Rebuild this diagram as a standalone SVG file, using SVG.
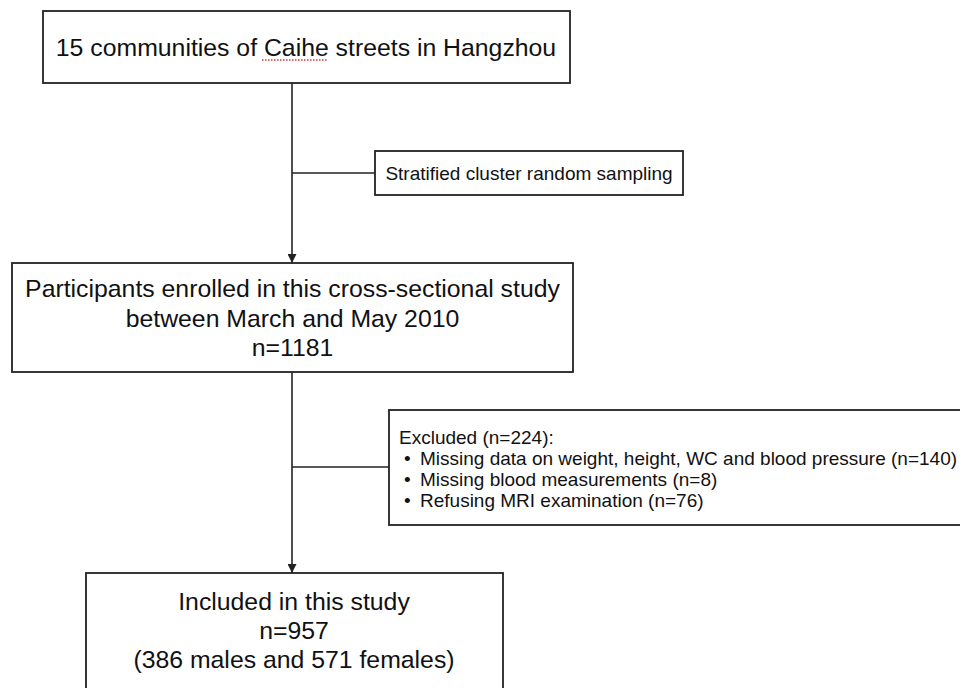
<svg xmlns="http://www.w3.org/2000/svg" width="960" height="688" viewBox="0 0 960 688">
<style>
.box{fill:#fff;stroke:#222;stroke-width:1.8}
.ln{fill:none;stroke:#222;stroke-width:1.6}
.t{font-family:"Liberation Sans",Arial,Helvetica,sans-serif;fill:#111}
.big{font-size:24.8px}
.sm{font-size:19px}
</style>
<defs>
<marker id="ah" viewBox="0 0 10 10" refX="10" refY="5" markerWidth="10" markerHeight="9" markerUnits="userSpaceOnUse" orient="auto">
<path d="M0,0 L10,5 L0,10 z" fill="#222"/>
</marker>
</defs>
<rect width="960" height="688" fill="#fff"/>
<g id="connectors">
<line class="ln" x1="292" y1="83" x2="292" y2="263" marker-end="url(#ah)"/>
<line class="ln" x1="292" y1="173" x2="375" y2="173"/>
<line class="ln" x1="292" y1="372" x2="292" y2="573" marker-end="url(#ah)"/>
<line class="ln" x1="292" y1="467" x2="389" y2="467"/>
</g>
<g id="n1">
<rect class="box" x="43" y="11" width="527" height="72"/>
<text class="t big" x="306" y="56" text-anchor="middle">15 communities of Caihe streets in Hangzhou</text>
<path d="M262,60 L328,60" stroke="#d33" stroke-width="1.3" stroke-dasharray="1.5,1.5" fill="none"/>
</g>
<g id="n2">
<rect class="box" x="375" y="151" width="308" height="44"/>
<text class="t sm" x="529" y="180" text-anchor="middle">Stratified cluster random sampling</text>
</g>
<g id="n3">
<rect class="box" x="12" y="263" width="561" height="109"/>
<text class="t big" x="292.5" y="297" text-anchor="middle">Participants enrolled in this cross-sectional study</text>
<text class="t big" x="292.5" y="327" text-anchor="middle">between March and May 2010</text>
<text class="t big" x="292.5" y="356" text-anchor="middle">n=1181</text>
</g>
<g id="n4">
<rect class="box" x="389" y="410" width="580" height="115"/>
<text class="t sm" x="399" y="444">Excluded (n=224):</text>
<text class="t sm" x="404" y="465">•</text>
<text class="t sm" x="420" y="465">Missing data on weight, height, WC and blood pressure (n=140)</text>
<text class="t sm" x="404" y="486">•</text>
<text class="t sm" x="420" y="486">Missing blood measurements (n=8)</text>
<text class="t sm" x="404" y="507">•</text>
<text class="t sm" x="420" y="507">Refusing MRI examination (n=76)</text>
</g>
<g id="n5">
<rect class="box" x="86" y="573" width="417" height="130"/>
<text class="t big" x="294" y="610" text-anchor="middle">Included in this study</text>
<text class="t big" x="294" y="639" text-anchor="middle">n=957</text>
<text class="t big" x="294" y="668" text-anchor="middle">(386 males and 571 females)</text>
</g>
</svg>
